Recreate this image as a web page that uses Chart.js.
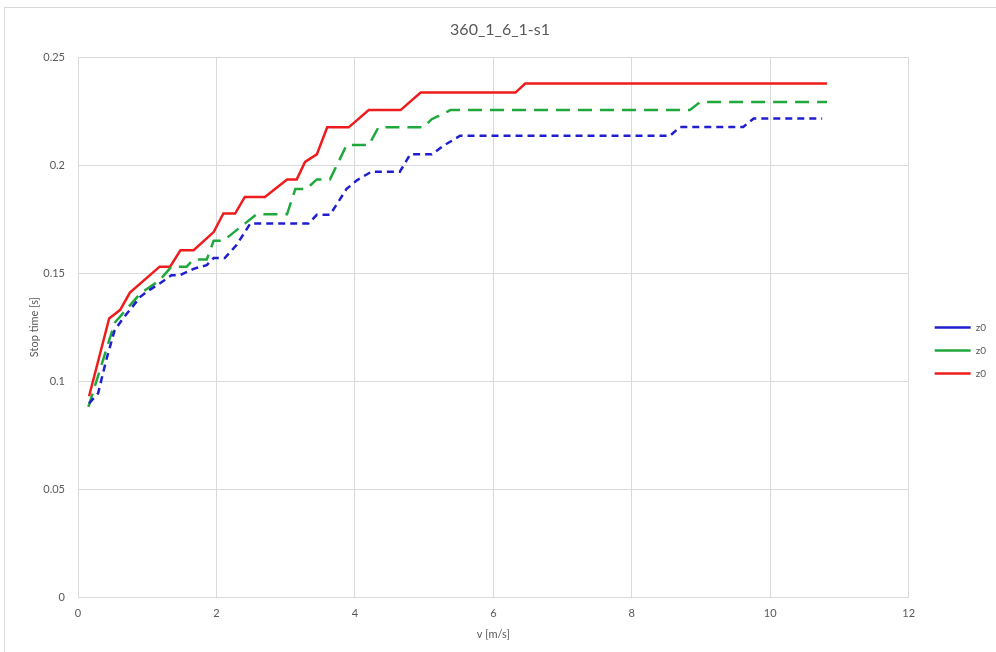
<!DOCTYPE html>
<html>
<head>
<meta charset="utf-8">
<script src="https://cdn.jsdelivr.net/npm/chart.js@4.4.1/dist/chart.umd.min.js"></script>
<style>
  body { margin: 0; background: #fff; }
  #wrap { position: relative; width: 996px; height: 652px; }
  #frame { position: absolute; left: 4px; top: 7px; right: 0; bottom: 0; border-top: 1px solid #d9d9d9; border-left: 1px solid #d9d9d9; }
  #myChart { position: absolute; left: 0; top: 0; }
</style>
</head>
<body>
<div id="wrap">
  <div id="frame"></div>
  <canvas id="myChart" width="996" height="652"></canvas>
</div>
<script>
// tick labels
var xTicks = [0, 2, 4, 6, 8, 10, 12];
var xTickLabels = ['0', '2', '4', '6', '8', '10', '12'];
var yTicks = [0, 0.05, 0.1, 0.15, 0.2, 0.25];
var yTickLabels = ['0', '0.05', '0.1', '0.15', '0.2', '0.25'];

var seriesNames = ['z0', 'z0', 'z0'];

// blue (short dash)
var blueV = [0.16, 0.29, 0.41, 0.53, 0.65, 0.9, 0.99, 1.18, 1.35, 1.47, 1.67, 1.86, 1.96, 2.12, 2.29, 2.49, 3.33, 3.45, 3.64, 3.88, 4.03, 4.24, 4.65, 4.8, 5.11, 5.28, 5.52, 8.55, 8.7, 9.61, 9.76, 10.75];
var blueT = [0.0897, 0.0943, 0.11, 0.1236, 0.129, 0.139, 0.1413, 0.1452, 0.149, 0.149, 0.152, 0.1537, 0.157, 0.157, 0.163, 0.173, 0.173, 0.177, 0.177, 0.189, 0.193, 0.197, 0.197, 0.205, 0.205, 0.209, 0.2136, 0.2136, 0.2177, 0.2177, 0.2216, 0.2216];

// green (long dash)
var greenV = [0.15, 0.53, 0.9, 1.18, 1.35, 1.57, 1.67, 1.86, 1.96, 2.1, 2.58, 3.02, 3.14, 3.3, 3.45, 3.64, 3.88, 4.2, 4.34, 4.99, 5.11, 5.38, 8.84, 8.99, 10.82];
var greenT = [0.088, 0.127, 0.1406, 0.1467, 0.153, 0.153, 0.1563, 0.1563, 0.165, 0.165, 0.1773, 0.1773, 0.189, 0.189, 0.1934, 0.1934, 0.2093, 0.2093, 0.2175, 0.2175, 0.2213, 0.2255, 0.2255, 0.2293, 0.2293];

// red (solid)
var redV = [0.16, 0.45, 0.61, 0.75, 1.18, 1.33, 1.48, 1.67, 1.96, 2.1, 2.27, 2.41, 2.7, 3.02, 3.16, 3.28, 3.45, 3.6, 3.91, 4.2, 4.66, 4.95, 6.32, 6.46, 10.82];
var redT = [0.093, 0.129, 0.133, 0.141, 0.153, 0.153, 0.1606, 0.1606, 0.169, 0.1776, 0.1776, 0.1853, 0.1853, 0.1934, 0.1934, 0.2015, 0.205, 0.2175, 0.2175, 0.2255, 0.2255, 0.2336, 0.2336, 0.2378, 0.2378];

function pts(vs, ts) {
    return vs.map(function(v, i) { return {x: v, y: ts[i]}; });
}

var fontFam = 'Lato, "Open Sans", sans-serif';
var grey = '#595959';
var gridCol = '#d9d9d9';

var ctx = document.getElementById('myChart').getContext('2d');
var myChart = new Chart(ctx, {
    type: 'scatter',
    data: {
        datasets: [{
            label: seriesNames[0],
            data: pts(blueV, blueT),
            showLine: true,
            borderColor: '#1f1fd0',
            backgroundColor: '#1f1fd0',
            borderWidth: 2.5,
            borderDash: [7, 5],
            pointRadius: 0,
            pointStyle: 'line'
        }, {
            label: seriesNames[1],
            data: pts(greenV, greenT),
            showLine: true,
            borderColor: '#1fa83c',
            backgroundColor: '#1fa83c',
            borderWidth: 2.5,
            borderDash: [14, 8],
            pointRadius: 0,
            pointStyle: 'line'
        }, {
            label: seriesNames[2],
            data: pts(redV, redT),
            showLine: true,
            borderColor: '#ee1c1c',
            backgroundColor: '#ee1c1c',
            borderWidth: 2.5,
            pointRadius: 0,
            pointStyle: 'line'
        }]
    },
    options: {
        responsive: false,
        animation: false,
        devicePixelRatio: 1,
        layout: { padding: { left: 4, right: 0, top: 10, bottom: 7 } },
        plugins: {
            title: {
                display: true,
                text: '360_1_6_1-s1',
                color: grey,
                font: { family: fontFam, size: 16, weight: 'normal' },
                padding: { top: 10, bottom: 18 }
            },
            legend: {
                position: 'right',
                title: { display: true, text: ' ', font: { size: 10 }, padding: { top: 34, bottom: 0 } },
                labels: {
                    usePointStyle: true,
                    pointStyle: 'line',
                    pointStyleWidth: 36,
                    padding: 13,
                    color: grey,
                    font: { family: fontFam, size: 10 }
                }
            },
            tooltip: { enabled: false }
        },
        scales: {
            x: {
                type: 'linear',
                min: 0,
                max: 12,
                afterBuildTicks: function(s) { s.ticks = xTicks.map(function(v) { return {value: v}; }); },
                afterFit: function(s) { s.height = 48; },
                grid: { color: gridCol, drawTicks: false },
                border: { color: gridCol },
                ticks: {
                    color: grey, padding: 10, font: { family: fontFam, size: 11 },
                    callback: function(v) { var i = xTicks.indexOf(v); return i >= 0 ? xTickLabels[i] : ''; }
                },
                title: { display: true, text: 'v [m/s]', color: grey, font: { family: fontFam, size: 11 }, padding: { top: 8, bottom: 4 } }
            },
            y: {
                min: 0,
                max: 0.25,
                afterBuildTicks: function(s) { s.ticks = yTicks.map(function(v) { return {value: v}; }); },
                afterFit: function(s) { s.width = 74; },
                grid: { color: gridCol, drawTicks: false },
                border: { color: gridCol },
                ticks: {
                    color: grey, padding: 13, font: { family: fontFam, size: 11 },
                    callback: function(v) { var i = yTicks.indexOf(v); return i >= 0 ? yTickLabels[i] : ''; }
                },
                title: { display: true, text: 'Stop time [s]', color: grey, font: { family: fontFam, size: 11 }, padding: { top: 24, bottom: 4 } }
            },
            spacer: {
                position: 'right',
                display: true,
                grid: { display: false },
                border: { display: false },
                ticks: { display: false },
                afterFit: function(s) { s.width = 13; }
            }
        }
    }
});
</script>
</body>
</html>
